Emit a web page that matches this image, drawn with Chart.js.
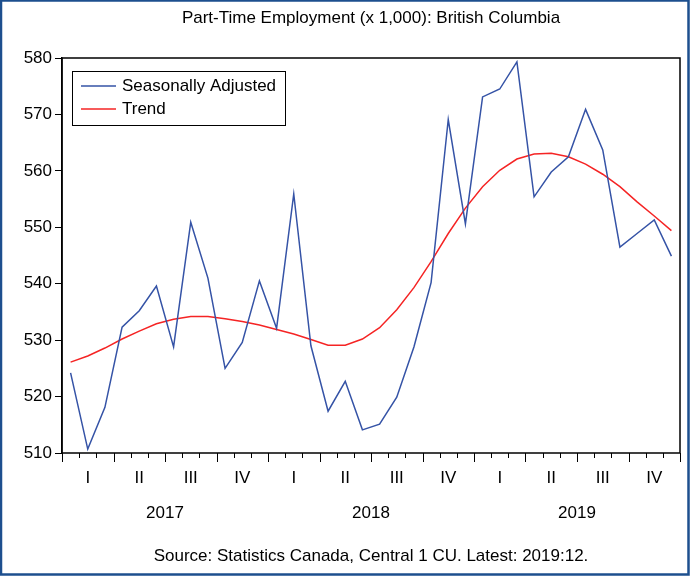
<!DOCTYPE html>
<html>
<head>
<meta charset="utf-8">
<script src="https://cdn.jsdelivr.net/npm/chart.js@4.4.1/dist/chart.umd.min.js"></script>
<style>
  html, body { margin: 0; padding: 0; background: #fff; }
  #wrap { width: 691px; height: 579px; }
</style>
</head>
<body>
<div id="wrap"><canvas id="ptChart" width="691" height="579"></canvas></div>
<script>
// Part-time employment, British Columbia (x 1,000), monthly 2017:01 - 2019:12
const yearLabels = ['2017', '2018', '2019'];
const quarterLabels = ['I', 'II', 'III', 'IV'];

const seasonallyAdjusted = [
  524.2, 510.7, 518.1, 532.3, 535.2, 539.6, 528.8, 550.9, 541.0, 525.0, 529.6, 540.5,
  532.1, 555.9, 529.0, 517.4, 522.7, 514.1, 515.1, 519.9, 528.8, 540.2, 569.1, 550.6,
  573.1, 574.5, 579.3, 555.4, 559.8, 562.5, 570.9, 563.7, 546.5, 548.9, 551.3, 544.9
];
const trend = [
  526.1, 527.2, 528.6, 530.2, 531.6, 532.9, 533.7, 534.2, 534.2, 533.8, 533.3, 532.7,
  531.9, 531.1, 530.1, 529.1, 529.1, 530.2, 532.2, 535.4, 539.3, 543.9, 548.9, 553.4,
  557.2, 560.1, 562.1, 563.0, 563.1, 562.5, 561.2, 559.4, 557.2, 554.5, 552.0, 549.4
];

const yMin = 510, yMax = 580, yStep = 10;

// month categories built from the years
const months = [];
yearLabels.forEach(y => {
  for (let m = 1; m <= 12; m++) months.push(y + ':' + String(m).padStart(2, '0'));
});

const FONT = '"Liberation Sans", Arial, sans-serif';
const BLUE = '#3553a6';
const RED = '#f52424';

// frame, box, ticks and text that Chart.js doesn't draw like EViews does
const eviewsDecor = {
  id: 'eviewsDecor',
  beforeDraw(chart) {
    const ctx = chart.ctx;
    ctx.save();
    ctx.fillStyle = '#fff';
    ctx.fillRect(0, 0, chart.width, chart.height);
    ctx.restore();
  },
  afterDraw(chart) {
    const ctx = chart.ctx;
    const area = chart.chartArea;
    const x = chart.scales.x;
    const midX = (area.left + area.right) / 2;
    const step = x.getPixelForValue(1) - x.getPixelForValue(0);
    const edge = i => x.getPixelForValue(i) - step / 2;

    ctx.save();
    // plot box
    ctx.strokeStyle = '#000';
    ctx.lineWidth = 1.5;
    ctx.strokeRect(area.left, area.top, area.right - area.left, area.bottom - area.top);

    // month ticks, longer at quarters
    ctx.lineWidth = 1;
    for (let i = 0; i <= months.length; i++) {
      const px = Math.round(edge(i)) + 0.5;
      const len = i % 3 === 0 ? 9 : 5;
      ctx.beginPath();
      ctx.moveTo(px, area.bottom);
      ctx.lineTo(px, area.bottom + len);
      ctx.stroke();
    }

    ctx.fillStyle = '#000';
    ctx.textAlign = 'center';
    ctx.textBaseline = 'middle';
    ctx.font = '17px ' + FONT;
    // quarter labels
    for (let q = 0; q < months.length / 3; q++) {
      const cx = (edge(q * 3) + edge(q * 3 + 3)) / 2;
      ctx.fillText(quarterLabels[q % 4], cx, 478);
    }
    // year labels
    yearLabels.forEach((y, k) => {
      const cx = (edge(k * 12) + edge(k * 12 + 12)) / 2;
      ctx.fillText(y, cx, 513);
    });

    // title and source
    ctx.fillText('Part-Time Employment (x 1,000): British Columbia', midX, 18);
    ctx.fillText('Source: Statistics Canada, Central 1 CU. Latest: 2019:12.', midX, 556);

    // legend box
    const lx = area.left + 10, ly = area.top + 13, lw = 213, lh = 54;
    ctx.fillStyle = '#fff';
    ctx.fillRect(lx, ly, lw, lh);
    ctx.strokeStyle = '#000';
    ctx.lineWidth = 1;
    ctx.strokeRect(lx + 0.5, ly + 0.5, lw, lh);
    const rows = [
      { label: 'Seasonally Adjusted', color: BLUE, y: ly + 15 },
      { label: 'Trend', color: RED, y: ly + 38 }
    ];
    ctx.textAlign = 'left';
    ctx.font = '17px ' + FONT;
    rows.forEach(r => {
      ctx.strokeStyle = r.color;
      ctx.lineWidth = 1.5;
      ctx.beginPath();
      ctx.moveTo(lx + 9, r.y);
      ctx.lineTo(lx + 44, r.y);
      ctx.stroke();
      ctx.fillStyle = '#000';
      ctx.fillText(r.label, lx + 50, r.y);
    });

    // outer blue frame
    ctx.strokeStyle = '#1d4f8e';
    ctx.lineWidth = 2.5;
    ctx.strokeRect(1, 0.5, 687.5, 574);
    ctx.restore();
  }
};

const ctx = document.getElementById('ptChart').getContext('2d');
new Chart(ctx, {
  type: 'line',
  data: {
    labels: months,
    datasets: [
      {
        label: 'Seasonally Adjusted',
        data: seasonallyAdjusted,
        borderColor: BLUE,
        borderWidth: 1.5,
        pointRadius: 0,
        tension: 0
      },
      {
        label: 'Trend',
        data: trend,
        borderColor: RED,
        borderWidth: 1.5,
        pointRadius: 0,
        tension: 0
      }
    ]
  },
  options: {
    responsive: false,
    animation: false,
    events: [],
    layout: { padding: { top: 58, right: 11, bottom: 126, left: 0 } },
    plugins: {
      legend: { display: false },
      tooltip: { enabled: false },
      title: { display: false }
    },
    scales: {
      x: {
        type: 'category',
        offset: true,
        display: false
      },
      y: {
        min: yMin,
        max: yMax,
        ticks: {
          stepSize: yStep,
          color: '#000',
          padding: 3,
          font: { family: FONT, size: 17 }
        },
        grid: {
          drawOnChartArea: false,
          tickLength: 7,
          tickColor: '#000'
        },
        border: { display: true, color: '#000', width: 1.5 },
        afterFit(scale) { scale.width = 62; }
      }
    }
  },
  plugins: [eviewsDecor]
});
</script>
</body>
</html>
